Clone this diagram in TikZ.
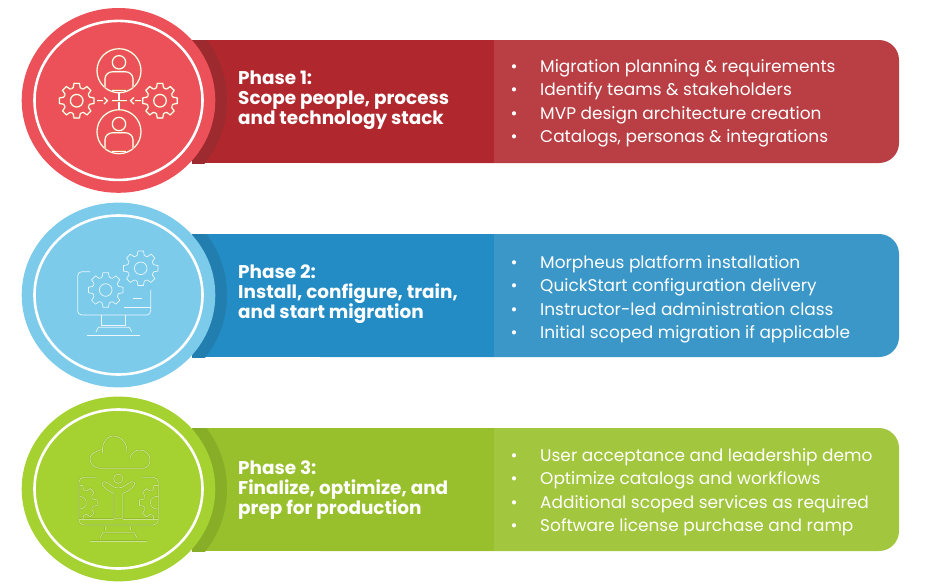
\documentclass[tikz,border=0pt]{standalone}
\usepackage{fontspec}
\setmainfont{Poppins}
\usepackage{xcolor}
\usetikzlibrary{arrows.meta, positioning, calc}
\definecolor{redring}{HTML}{EC5058}
\definecolor{redbar}{HTML}{B0282D}
\definecolor{redpanel}{HTML}{B93F44}
\definecolor{redshade}{HTML}{9C2A2E}
\definecolor{redhalo}{HTML}{E0784F}
\definecolor{bluering}{HTML}{7CCBEB}
\definecolor{bluebar}{HTML}{248CC4}
\definecolor{bluepanel}{HTML}{3A97C8}
\definecolor{blueshade}{HTML}{217EAE}
\definecolor{greenring}{HTML}{A5D131}
\definecolor{greenbar}{HTML}{98BF2C}
\definecolor{greenpanel}{HTML}{A3C63F}
\definecolor{greenshade}{HTML}{88AD27}
\definecolor{greenline}{HTML}{CBE38A}
\definecolor{greenhalo}{HTML}{93BC2C}
\tikzset{
  phasetext/.style={anchor=base west, inner sep=0pt, text=white, font=\fontsize{18.4}{20}\selectfont\bfseries},
  itemtext/.style={anchor=base west, inner sep=0pt, text=white, font=\fontsize{16.95}{20}\selectfont},
  bullettext/.style={anchor=base, inner sep=0pt, text=white, font=\fontsize{17}{20}\selectfont},
  iconred/.style={draw=white, line width=1.1pt, line join=round, preaction={draw=redhalo, line width=2pt}},
  iconblue/.style={draw=white!85!bluering, line width=0.7pt, line join=round},
  icongreen/.style={draw=greenline, line width=0.8pt, line join=round, preaction={draw=greenhalo, line width=1.8pt}},
  pics/gearicon/.style={code={
    \foreach \a in {0,45,...,315} {
      \draw[#1] plot coordinates {(\a-22.5:13) (\a-15:13.6) (\a-9:17.5) (\a+9:17.5) (\a+15:13.6) (\a+22.5:13)};
    }
    \draw[#1] (0,0) circle (6.3);
  }}
}
\begin{document}
\begin{tikzpicture}[x=1pt, y=-1pt]
  \useasboundingbox (0,0) rectangle (927,584);

  % Bars, panels and rings
  \foreach \n/\cy/\cc/\tone in {1/100.4/101.5/red, 2/295/295.5/blue, 3/489/489.5/green} {
    \fill[\tone panel, rounded corners=20pt] (300,\cc-61.5) rectangle (899,\cc+61.5);
    \fill[\tone bar] (192,\cc-61.5) rectangle (494,\cc+61.5);
    \begin{scope}
      \clip (192,\cc-61.5) rectangle (494,\cc+61.5);
      \fill[\tone shade] (118.5,\cy) ellipse (108.5 and 104);
    \end{scope}
    \fill[\tone ring] (118.5,\cy) ellipse (96.8 and 92.4);
    \draw[white, line width=2.6pt] (118.5,\cy) ellipse (84 and 79.5);
  }

  % Phase 1 icon
  \foreach \y/\hy in {70.7/62.3, 131.7/124} {
    \draw[iconred] (119,\y) circle (22);
    \draw[iconred] (119,\hy) circle (6.7);
    \draw[iconred] (105,\y+17) -- (105,\y+8) to[out=90,in=180] (113,\y+1) -- (125,\y+1) to[out=0,in=90] (133,\y+8) -- (133,\y+17);
    \draw[iconred] (112,\y+19.5) -- (126,\y+19.5);
  }
  \pic at (76.7,100.7) {gearicon=iconred};
  \pic at (160,100.7) {gearicon=iconred};
  \draw[iconred] (119,93.3) -- (119,110);
  \draw[iconred] (97.3,100.7) -- (103.3,100.7);
  \draw[iconred] (140.7,100.7) -- (134.7,100.7);
  \draw[iconred] (104,97.5) -- (107.5,100.7) -- (104,104);
  \draw[iconred] (134,97.5) -- (130.5,100.7) -- (134,104);
  \draw[iconred] (111.7,100.7) -- (126.7,100.7);

  % Phase 2 icon
  \pic at (105.7,290) {gearicon=iconblue};
  \pic at (140.7,268.3) {gearicon=iconblue};
  \draw[iconblue, rounded corners=4pt] (90,271.7) -- (77.7,271.7) -- (77.7,315) -- (150.7,315) -- (150.7,290);
  \draw[iconblue] (124,307.3) -- (150.7,307.3);
  \draw[iconblue] (133.3,298.3) -- (141.7,298.3);
  \draw[iconblue] (101.7,315) -- (101.7,325) -- (125.7,325) -- (125.7,315);
  \draw[iconblue] (96,332) -- (98.3,327.3) -- (129.3,327.3) -- (131.7,332);
  \draw[iconblue] (87.3,335.7) -- (140,335.7);

  % Phase 3 icon
  \draw[icongreen] (101.7,449.5) to[out=200,in=90] (90,459) to[out=270,in=180] (100,468.3) -- (143.3,468.3) to[out=0,in=270] (150,460) to[out=90,in=0] (140,450) to[out=180,in=80] (130,458.3);
  \draw[icongreen] (102.7,453.3) to[out=100,in=180] (113.3,436) to[out=0,in=80] (126.7,452.7);
  \draw[icongreen, rounded corners=5pt] (97,477.3) -- (79,477.3) -- (79,525) -- (158.3,525) -- (158.3,477.3) -- (141.7,477.3);
  \draw[icongreen] (79,519.3) -- (114,519.3);
  \draw[icongreen] (122.7,519.3) -- (158.3,519.3);
  \draw[icongreen] (118.3,478.7) circle (4.7);
  \draw[icongreen] (114,518.3) -- (114,493.3) to[out=160,in=-60] (102,484) to[out=120,in=170] (105,481.7) to[out=-20,in=180] (118.3,488) to[out=0,in=200] (131.7,481.7) to[out=10,in=60] (135,484) to[out=240,in=20] (122.7,493.3) -- (122.7,518.3) -- cycle;
  \begin{scope}
    \clip (79.5,478) rectangle (102,518.5);
    \pic at (80,502.7) {gearicon=icongreen};
  \end{scope}
  \begin{scope}
    \clip (135,478) rectangle (157.8,518.5);
    \pic at (156.7,502.7) {gearicon=icongreen};
  \end{scope}
  \draw[icongreen] (105,527) -- (105,530) (130.7,527) -- (130.7,530);
  \draw[icongreen] (100,538.3) -- (102.7,532.7) -- (134,532.7) -- (137.3,538.3);
  \draw[icongreen] (90,541) -- (146.7,541);

  % Phase headings
  \foreach \n/\y/\a/\b/\c in {
    1/84/{Phase 1:}/{Scope people, process}/{and technology stack},
    2/278.5/{Phase 2:}/{Install, configure, train,}/{and start migration},
    3/474/{Phase 3:}/{Finalize, optimize, and}/{prep for production}} {
    \node[phasetext] (head\n a) at (238,\y) {\a};
    \node[phasetext] (head\n b) at (238,\y+20) {\b};
    \node[phasetext] (head\n c) at (238,\y+40) {\c};
  }

  % Panel lists
  \foreach \n/\y/\a/\b/\c/\d in {
    1/72.4/{Migration planning \& requirements}/{Identify teams \& stakeholders}/{MVP design architecture creation}/{Catalogs, personas \& integrations},
    2/268.4/{Morpheus platform installation}/{QuickStart configuration delivery}/{Instructor-led administration class}/{Initial scoped migration if applicable},
    3/461.4/{User acceptance and leadership demo}/{Optimize catalogs and workflows}/{Additional scoped services as required}/{Software license purchase and ramp}} {
    \foreach \k/\t/\s in {1/\a/0, 2/\b/1, 3/\c/2, 4/\d/3} {
      \node[bullettext] (dot\n\k) at (514,\y+\s*23.3) {•};
      \node[itemtext] (item\n\k) at (540,\y+\s*23.3) {\t};
    }
  }
\end{tikzpicture}
\end{document}
